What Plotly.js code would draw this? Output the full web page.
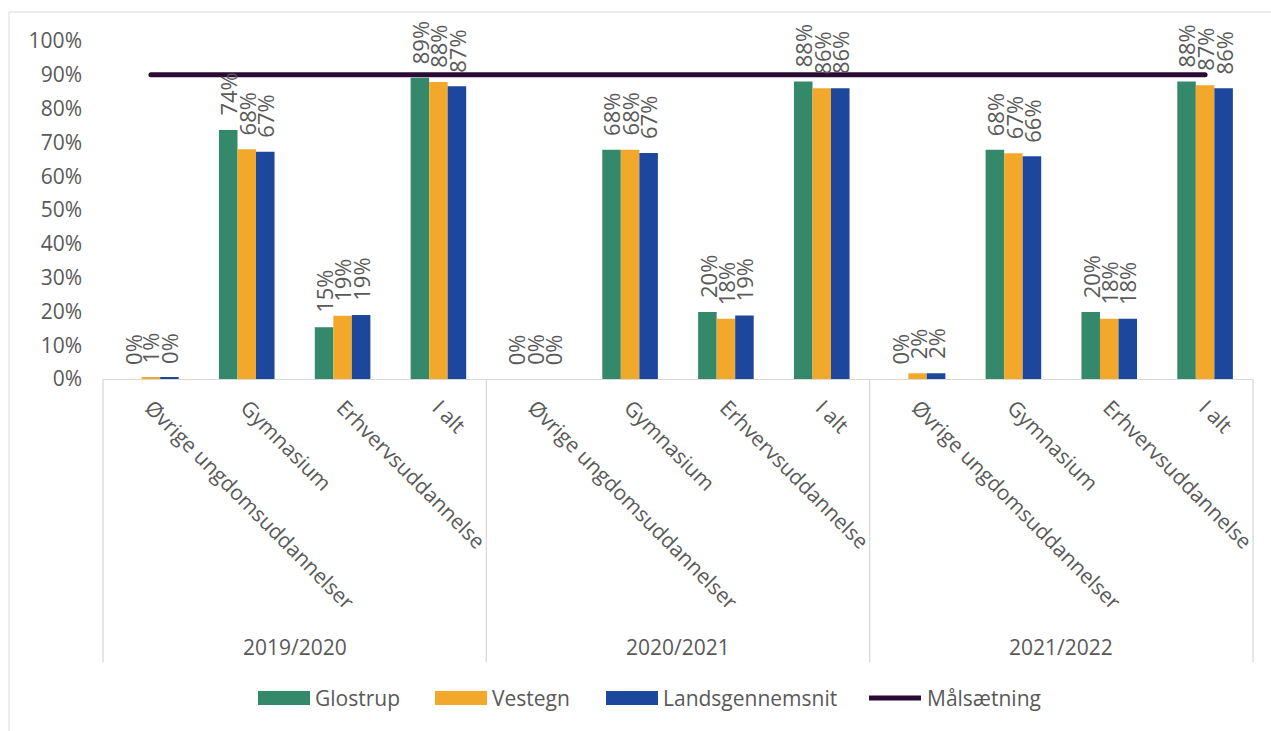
<!DOCTYPE html>
<html>
<head>
<meta charset="utf-8">
<script src="https://cdn.plot.ly/plotly-3.0.1.min.js"></script>
<style>
html,body{margin:0;padding:0;background:#fff;}
#chart{width:1271px;height:731px;}
.scatterlayer .js-line{stroke-linecap:round;}
</style>
</head>
<body>
<div id="chart"></div>
<script>
// ---- data ----
const categories = ['Øvrige ungdomsuddannelser', 'Gymnasium', 'Erhvervsuddannelse', 'I alt'];
const years = ['2019/2020', '2020/2021', '2021/2022'];
const seriesNames = ['Glostrup', 'Vestegn', 'Landsgennemsnit'];
const glostrup        = [0.000, 0.737, 0.153, 0.891,  0.000, 0.678, 0.198, 0.880,  0.000, 0.678, 0.198, 0.880];
const vestegn         = [0.006, 0.680, 0.187, 0.879,  0.000, 0.678, 0.178, 0.860,  0.017, 0.668, 0.178, 0.869];
const landsgennemsnit = [0.003, 0.672, 0.189, 0.866,  0.000, 0.669, 0.188, 0.860,  0.017, 0.659, 0.178, 0.860];
const targetName = 'Målsætning';
const target = [0.9, 0.9, 0.9, 0.9, 0.9, 0.9, 0.9, 0.9, 0.9, 0.9, 0.9, 0.9];
const yTickVals = [0, 0.1, 0.2, 0.3, 0.4, 0.5, 0.6, 0.7, 0.8, 0.9, 1.0];

// ---- styling / layout constants ----
const colors = ['#34896A', '#F2A92B', '#1D479C'];
const targetColor = '#2B0B33';
const textColor = '#595959';
const lineGray = '#D9D9D9';
const FONT = '"Open Sans", "Noto Sans", sans-serif';
const FS = 21;        // axis / legend text size
const FS_LABEL = 22;  // data label size
const W = 1271, H = 731;
const M = {l: 103, r: 18, t: 41, b: 352};
const plotW = W - M.l - M.r, plotH = H - M.t - M.b;
const bargap = 0.42;
const px = x => (x - M.l) / plotW;          // pixel -> paper x
const py = y => (H - M.b - y) / plotH;      // pixel -> paper y

const series = [glostrup, vestegn, landsgennemsnit];
const keys = [];
const tickText = [];
years.forEach(y => categories.forEach(c => { keys.push(y + ' | ' + c); tickText.push(c); }));

const traces = series.map((vals, i) => ({
  type: 'bar', name: seriesNames[i], x: keys, y: vals,
  marker: {color: colors[i], line: {width: 0}},
  showlegend: false, hoverinfo: 'name+y'
}));
traces.push({
  type: 'scatter', mode: 'lines', name: targetName, x: keys, y: target,
  line: {color: targetColor, width: 5}, showlegend: false, hoverinfo: 'name+y'
});

// data labels
const catW = plotW / keys.length;
const barW = catW * (1 - bargap) / series.length;
const annotations = [];
series.forEach((vals, i) => {
  vals.forEach((v, j) => {
    annotations.push({
      x: keys[j], y: v, xref: 'x', yref: 'y',
      text: Math.round(v * 100) + '%', showarrow: false,
      textangle: -90, xanchor: 'center', yanchor: 'bottom',
      xshift: (i - 1) * barW, yshift: 12,
      font: {family: FONT, size: FS_LABEL, color: textColor}
    });
  });
});
// year group labels
years.forEach((yr, g) => {
  annotations.push({
    x: (g + 0.5) / years.length, y: py(647), xref: 'paper', yref: 'paper',
    text: yr, showarrow: false, xanchor: 'center', yanchor: 'middle',
    font: {family: FONT, size: FS, color: textColor}
  });
});

const shapes = [];
// outer chart border
shapes.push({type: 'rect', xref: 'paper', yref: 'paper', x0: px(9), x1: px(1300), y0: py(760), y1: py(12),
  line: {color: lineGray, width: 1}, fillcolor: 'rgba(0,0,0,0)', layer: 'below'});
// group dividers
for (let g = 0; g <= years.length; g++) {
  shapes.push({type: 'line', xref: 'paper', yref: 'paper', x0: g / years.length, x1: g / years.length,
    y0: 0, y1: py(662), line: {color: lineGray, width: 1.3}});
}
// custom legend
const legendItems = [
  {sx: 258, tx: 313},
  {sx: 435, tx: 490},
  {sx: 606, tx: 661}
];
const legY = 698;
legendItems.forEach((it, i) => {
  shapes.push({type: 'rect', xref: 'paper', yref: 'paper', x0: px(it.sx), x1: px(it.sx + 52),
    y0: py(legY + 7), y1: py(legY - 7), fillcolor: colors[i], line: {width: 0}});
  annotations.push({x: px(it.tx), y: py(legY), xref: 'paper', yref: 'paper', text: seriesNames[i],
    showarrow: false, xanchor: 'left', yanchor: 'middle', font: {family: FONT, size: FS, color: textColor}});
});
shapes.push({type: 'line', xref: 'paper', yref: 'paper', x0: px(869), x1: px(921), y0: py(legY), y1: py(legY),
  line: {color: targetColor, width: 5}});
annotations.push({x: px(925), y: py(legY), xref: 'paper', yref: 'paper', text: targetName,
  showarrow: false, xanchor: 'left', yanchor: 'middle', font: {family: FONT, size: FS, color: textColor}});

const layout = {
  width: W, height: H,
  margin: {l: M.l, r: M.r, t: M.t, b: M.b, pad: 0},
  paper_bgcolor: '#ffffff', plot_bgcolor: '#ffffff',
  font: {family: FONT, size: FS, color: textColor},
  barmode: 'group', bargap: bargap, bargroupgap: 0,
  showlegend: false,
  xaxis: {
    type: 'category', range: [-0.5, keys.length - 0.5], automargin: false,
    tickmode: 'array', tickvals: keys, ticktext: tickText, tickangle: 45,
    showline: true, linecolor: lineGray, linewidth: 1.3,
    showgrid: false, zeroline: false, ticks: '',
    tickfont: {family: FONT, size: FS, color: textColor}, ticklabelstandoff: 7
  },
  yaxis: {
    range: [0, 1], automargin: false,
    tickmode: 'array', tickvals: yTickVals, tickformat: '.0%',
    showgrid: false, zeroline: false, showline: false, ticks: '',
    tickfont: {family: FONT, size: FS, color: textColor}, ticklabelstandoff: 20
  },
  shapes: shapes,
  annotations: annotations
};

Plotly.newPlot('chart', traces, layout, {displayModeBar: false, responsive: false});
</script>
</body>
</html>
